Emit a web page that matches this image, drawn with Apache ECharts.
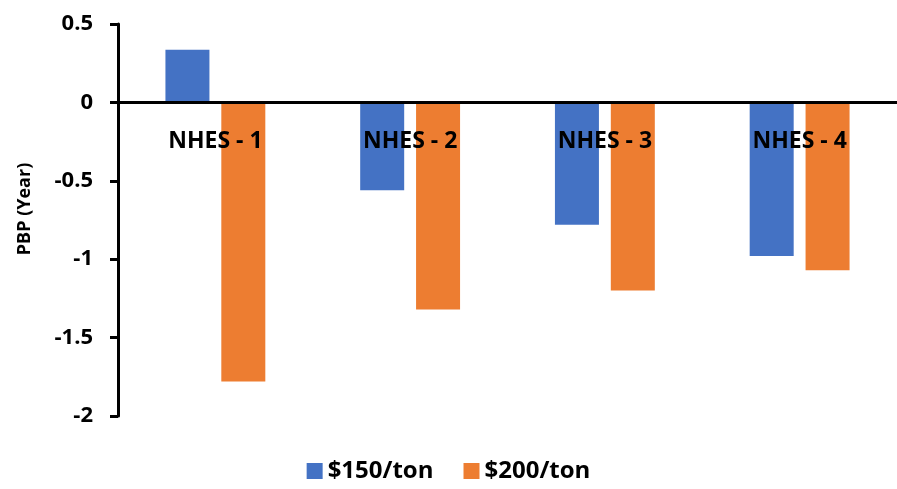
<!DOCTYPE html>
<html>
<head>
<meta charset="utf-8">
<script src="https://cdn.jsdelivr.net/npm/echarts@6/dist/echarts.min.js"></script>
<style>
  html, body { margin: 0; padding: 0; background: #fff; }
  #chart { width: 897px; height: 489px; }
</style>
</head>
<body>
<div id="chart"></div>
<script>
// Categories and values
const categories = ['NHES - 1', 'NHES - 2', 'NHES - 3', 'NHES - 4'];
const seriesNames = ['$150/ton', '$200/ton'];
const values150 = [0.335, -0.56, -0.78, -0.98];
const values200 = [-1.78, -1.32, -1.20, -1.07];

const FONT = '"Open Sans", sans-serif';

const chart = echarts.init(document.getElementById('chart'));

const option = {
    animation: false,
    color: ['#4472C4', '#ED7D31'],
    grid: { left: 118, right: 0, top: 24, bottom: 73 },
    legend: {
        data: seriesNames,
        bottom: 1,
        left: 'center',
        itemWidth: 16,
        itemHeight: 16,
        itemGap: 30,
        icon: 'rect',
        textStyle: { fontFamily: FONT, fontWeight: 'bold', fontSize: 24, color: '#000' }
    },
    xAxis: [
        {
            // zero line
            type: 'category',
            data: categories,
            z: 10,
            axisLine: { onZero: true, lineStyle: { color: '#000', width: 3 } },
            axisTick: { show: false },
            axisLabel: { show: false }
        },
        {
            // category labels sitting just under the zero line
            type: 'category',
            data: categories,
            position: 'bottom',
            offset: -314,
            z: 10,
            axisLine: { show: false },
            axisTick: { show: false },
            axisLabel: {
                margin: 28,
                fontFamily: FONT, fontWeight: 'bold', fontSize: 23, color: '#000'
            }
        }
    ],
    yAxis: {
        type: 'value',
        min: -2,
        max: 0.5,
        interval: 0.5,
        name: 'PBP (Year)',
        nameLocation: 'middle',
        nameGap: 84,
        nameTextStyle: {
            fontFamily: FONT, fontWeight: 'bold', fontSize: 18, color: '#000',
            padding: [0, 0, 0, 22]
        },
        axisLine: { show: true, lineStyle: { color: '#000', width: 3 } },
        axisTick: { show: true, length: 8, lineStyle: { color: '#000', width: 3 } },
        splitLine: { show: false },
        axisLabel: {
            margin: 25,
            fontFamily: FONT, fontWeight: 'bold', fontSize: 22, color: '#000'
        }
    },
    series: [
        {
            name: seriesNames[0],
            type: 'bar',
            data: values150,
            barWidth: 44,
            barGap: '27%'
        },
        {
            name: seriesNames[1],
            type: 'bar',
            data: values200,
            barWidth: 44,
            barGap: '27%'
        }
    ]
};

chart.setOption(option);
</script>
</body>
</html>
